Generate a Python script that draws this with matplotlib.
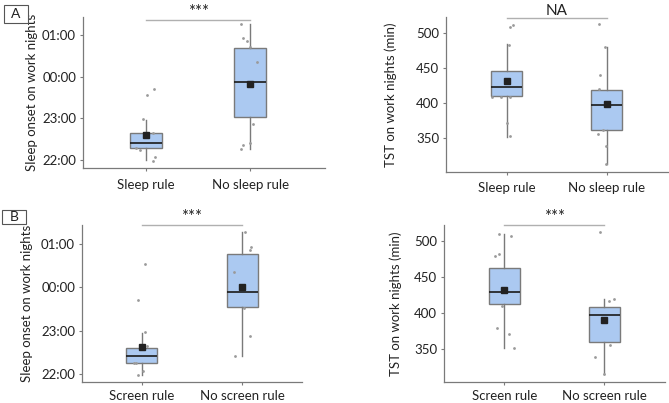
import matplotlib
matplotlib.use("Agg")
import matplotlib.pyplot as plt
from matplotlib.patches import Rectangle

plt.rcParams['font.family'] = ['Lato', 'DejaVu Sans']

# ---- data (sleep onset in hours relative to midnight, TST in minutes) ----
ONSET_TICKS = [-2, -1, 0, 1]
ONSET_LABELS = ['22:00', '23:00', '00:00', '01:00']
TST_TICKS = [350, 400, 450, 500]

sleep_groups = ['Sleep rule', 'No sleep rule']
screen_groups = ['Screen rule', 'No screen rule']

# box stats: q1, median, q3, whisker low, whisker high, mean
onset_sleep_rule = dict(q1=-1.70, med=-1.58, q3=-1.36, whislo=-2.01, whishi=-1.04, mean=-1.41)
onset_no_sleep_rule = dict(q1=-0.97, med=-0.13, q3=0.68, whislo=-1.74, whishi=1.26, mean=-0.18)
tst_sleep_rule = dict(q1=410, med=423, q3=446, whislo=352, whishi=483, mean=431)
tst_no_sleep_rule = dict(q1=362, med=397, q3=419, whislo=313, whishi=479, mean=398)
onset_screen_rule = dict(q1=-1.74, med=-1.59, q3=-1.40, whislo=-2.02, whishi=-1.05, mean=-1.38)
onset_no_screen_rule = dict(q1=-0.46, med=-0.12, q3=0.77, whislo=-1.59, whishi=1.27, mean=0.0)
tst_screen_rule = dict(q1=413, med=429, q3=463, whislo=352, whishi=510, mean=433)
tst_no_screen_rule = dict(q1=360, med=397, q3=409, whislo=315, whishi=420, mean=391)

# individual points (value, horizontal jitter)
pts_onset_sleep = [-0.30, -0.45, -1.02, -1.34, -1.70, -1.77, -1.92, -2.03]
jit_onset_sleep = [0.08, 0.01, -0.03, 0.07, -0.10, -0.06, 0.09, 0.07]
pts_onset_nosleep = [1.26, 0.93, 0.85, 0.72, 0.36, -1.13, -1.60, -1.65, -1.74]
jit_onset_nosleep = [-0.09, -0.07, -0.03, 0.00, 0.07, 0.03, 0.00, -0.07, -0.09]
pts_tst_sleep = [511, 508, 482, 408, 408, 409, 371, 353]
jit_tst_sleep = [0.06, 0.03, 0.02, -0.15, -0.06, 0.03, 0.00, 0.03]
pts_tst_nosleep = [512, 479, 440, 420, 361, 356, 339, 314]
jit_tst_nosleep = [-0.08, -0.02, -0.07, -0.08, -0.04, -0.09, -0.01, -0.01]
pts_onset_screen = [0.54, -0.29, -1.04, -1.35, -1.76, -1.74, -1.93, -2.03]
jit_onset_screen = [0.03, -0.04, 0.03, 0.05, -0.07, -0.05, 0.01, -0.04]
pts_onset_noscreen = [1.27, 0.93, 0.87, 0.36, -0.49, -1.13, -1.59]
jit_onset_noscreen = [0.03, 0.08, 0.07, -0.08, 0.02, 0.07, -0.07]
pts_tst_screen = [510, 508, 480, 482, 410, 379, 371, 352]
jit_tst_screen = [-0.05, 0.07, -0.09, -0.05, -0.02, -0.07, 0.05, 0.10]
pts_tst_noscreen = [513, 417, 420, 356, 339, 315]
jit_tst_noscreen = [-0.04, 0.05, 0.10, 0.06, -0.09, 0.00]

BOX_FILL = '#abc9f1'
EDGE = '#7a7a7a'
DOT = '#9a9a9a'
TXT = '#222222'
W, H = 669, 403


def px_axes(fig, l, r, t, b):
    return fig.add_axes([l / W, 1 - b / H, (r - l) / W, (b - t) / H])


def draw_panel(ax, groups, stats, pts, jits, ylim, xlim, yticks, ylabels,
               ylabel, label_x, sig_y, sig_text, xpad):
    bx = []
    for g, s in zip(groups, stats):
        d = dict(s)
        d['label'] = g
        d['fliers'] = []
        bx.append(d)
    ax.bxp(bx, positions=[1, 2], widths=0.31, showmeans=True, showcaps=False,
           patch_artist=True, manage_ticks=False,
           boxprops=dict(facecolor=BOX_FILL, edgecolor=EDGE, linewidth=1.0),
           whiskerprops=dict(color=EDGE, linewidth=1.0),
           medianprops=dict(color='#1a1a1a', linewidth=1.2),
           meanprops=dict(marker='s', markerfacecolor='#222222',
                          markeredgecolor='#222222', markersize=4))
    for i, (vals, jit) in enumerate(zip(pts, jits)):
        ax.scatter([i + 1 + j for j in jit], vals, s=4, color=DOT, zorder=3,
                   linewidths=0)
    ax.set_xlim(*xlim)
    ax.set_ylim(*ylim)
    ax.set_xticks([1, 2])
    ax.set_xticklabels(groups, fontsize=9.5, color=TXT)
    ax.set_yticks(yticks)
    ax.set_yticklabels(ylabels, fontsize=9.5, color=TXT)
    ax.tick_params(axis='y', length=2, pad=3, color=EDGE)
    ax.tick_params(axis='x', length=2, pad=xpad, color=EDGE)
    ax.set_ylabel(ylabel, fontsize=9.5, color=TXT)
    ax.yaxis.set_label_coords(label_x, 0.5)
    for side in ['top', 'right']:
        ax.spines[side].set_visible(False)
    for side in ['left', 'bottom']:
        ax.spines[side].set_color(EDGE)
        ax.spines[side].set_linewidth(0.9)
    ax.plot([1, 2], [sig_y, sig_y], color='#b0b0b0', lw=1.0, clip_on=False)
    ax.text(1.5, sig_y, sig_text, ha='center', va='bottom',
            fontsize=11 if sig_text == 'NA' else 12,
            color=TXT, clip_on=False)


fig = plt.figure(figsize=(W / 100, H / 100), dpi=100)

ax1 = px_axes(fig, 83, 325, 17, 168)
draw_panel(ax1, sleep_groups, [onset_sleep_rule, onset_no_sleep_rule],
           [pts_onset_sleep, pts_onset_nosleep], [jit_onset_sleep, jit_onset_nosleep],
           (-2.19, 1.43), (0.394, 2.72), ONSET_TICKS, ONSET_LABELS,
           'Sleep onset on work nights', -0.186, 1.37, '***', 6)

ax2 = px_axes(fig, 446, 668, 17, 172)
draw_panel(ax2, sleep_groups, [tst_sleep_rule, tst_no_sleep_rule],
           [pts_tst_sleep, pts_tst_nosleep], [jit_tst_sleep, jit_tst_nosleep],
           (302, 522), (0.393, 2.61), TST_TICKS, [str(t) for t in TST_TICKS],
           'TST on work nights (min)', -0.222, 520, 'NA', 5)

ax3 = px_axes(fig, 82, 302, 225, 382)
draw_panel(ax3, screen_groups, [onset_screen_rule, onset_no_screen_rule],
           [pts_onset_screen, pts_onset_noscreen], [jit_onset_screen, jit_onset_noscreen],
           (-2.19, 1.44), (0.41, 2.59), ONSET_TICKS, ONSET_LABELS,
           'Sleep onset on work nights', -0.221, 1.44, '***', 3.5)

ax4 = px_axes(fig, 444, 665, 225, 382)
draw_panel(ax4, screen_groups, [tst_screen_rule, tst_no_screen_rule],
           [pts_tst_screen, pts_tst_noscreen], [jit_tst_screen, jit_tst_noscreen],
           (304, 523), (0.397, 2.607), TST_TICKS, [str(t) for t in TST_TICKS],
           'TST on work nights (min)', -0.191, 523, '***', 3.5)

# panel letters in boxes
for letter, (l, t, r, b) in [('A', (4, 5, 28, 23)), ('B', (2, 210, 26, 224))]:
    fig.patches.append(Rectangle((l / W, 1 - b / H), (r - l) / W, (b - t) / H,
                                 transform=fig.transFigure, facecolor='white',
                                 edgecolor='#555555', linewidth=0.8))
    fig.text((l + r) / 2 / W, 1 - (t + b) / 2 / H, letter, ha='center',
             va='center', fontsize=10, color=TXT)

fig.savefig('out.png', dpi=100)
